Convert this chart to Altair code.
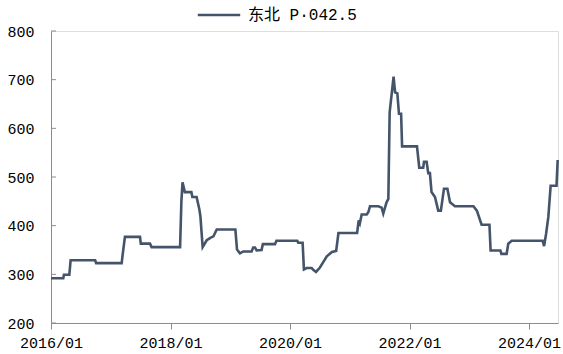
import altair as alt
import pandas as pd

dates = [
    "2016-01-01", "2016-03-16", "2016-03-20", "2016-04-22", "2016-04-30", "2016-09-27", "2016-10-03",
    "2017-03-08", "2017-03-15", "2017-03-28", "2017-06-28", "2017-07-03", "2017-08-28", "2017-09-07",
    "2018-02-28", "2018-03-08", "2018-03-15", "2018-03-29", "2018-05-08", "2018-05-14", "2018-06-09",
    "2018-06-25", "2018-07-02", "2018-07-16", "2018-08-10", "2018-09-01", "2018-09-20", "2018-10-10",
    "2019-02-01", "2019-02-11", "2019-03-01", "2019-03-21", "2019-05-11", "2019-05-21", "2019-06-01",
    "2019-06-11", "2019-07-11", "2019-07-19", "2019-10-01", "2019-10-10",
    "2020-02-14", "2020-02-20", "2020-03-18", "2020-03-26", "2020-04-12", "2020-05-12", "2020-05-20",
    "2020-06-08", "2020-07-02", "2020-07-22", "2020-08-13", "2020-09-13", "2020-10-09", "2020-10-23",
    "2021-02-14", "2021-02-24", "2021-03-03", "2021-03-14", "2021-04-14", "2021-04-24", "2021-05-04",
    "2021-06-24", "2021-07-14", "2021-07-24", "2021-08-13", "2021-08-24", "2021-09-01", "2021-09-25",
    "2021-10-04", "2021-10-18", "2021-10-28", "2021-11-10", "2021-11-16",
    "2022-02-15", "2022-03-01", "2022-03-25", "2022-03-30", "2022-04-15", "2022-04-25", "2022-05-05",
    "2022-05-15", "2022-06-05", "2022-06-25", "2022-07-11", "2022-07-30", "2022-08-20", "2022-09-05",
    "2022-10-05",
    "2023-01-26", "2023-02-16", "2023-03-17", "2023-05-04", "2023-05-11", "2023-07-10", "2023-07-16",
    "2023-08-17", "2023-08-27", "2023-09-17",
    "2024-03-24", "2024-04-02", "2024-04-14", "2024-04-28", "2024-05-12", "2024-06-17", "2024-06-24",
]

values = [
    292, 292, 299, 299, 329, 329, 323,
    323, 343, 377, 377, 363, 363, 356,
    356, 450, 489, 469, 469, 459, 459,
    435, 420, 356, 370, 375, 378, 392,
    392, 351, 343, 347, 347, 355, 355,
    349, 350, 362, 362, 369,
    369, 365, 365, 310, 313, 313, 310,
    305, 314, 325, 337, 346, 348, 385,
    385, 411, 405, 423, 423, 428, 440,
    440, 437, 425, 448, 455, 633, 706,
    674, 672, 630, 630, 563,
    563, 519, 519, 531, 531, 508, 508,
    469, 459, 431, 431, 476, 476, 448,
    440,
    440, 431, 402, 402, 349, 349, 342,
    342, 363, 369,
    369, 358, 383, 418, 482, 482, 535,
]

series_name = "东北 P·042.5"
y_ticks = [200, 300, 400, 500, 600, 700, 800]
x_tick_years = [2016, 2018, 2020, 2022, 2024]

df = pd.DataFrame({"date": dates, "value": values, "series": series_name})
tick_df = pd.DataFrame({"v": y_ticks})

FONT = "Liberation Mono, Noto Sans CJK SC"
LINE = "#44546A"
AXIS = "#8C8C8C"

x_scale = alt.Scale(
    type="utc",
    domain=[alt.DateTime(year=2016, month=1, date=1, utc=True),
            alt.DateTime(year=2024, month=6, date=26, utc=True)],
)
y_scale = alt.Scale(domain=[200, 800], nice=False, zero=False)

line = alt.Chart(df).mark_line(strokeWidth=2.6, interpolate="linear").encode(
    x=alt.X("date:T", scale=x_scale, title=None,
            axis=alt.Axis(values=[alt.DateTime(year=y, month=1, date=1, utc=True) for y in x_tick_years],
                          format="%Y/%m", labelFontSize=15, labelColor="#000000", labelFont=FONT,
                          tickSize=6, tickColor=AXIS, domainColor=AXIS, labelPadding=6,
                          grid=False, labelFlush=False)),
    y=alt.Y("value:Q", scale=y_scale, title=None,
            axis=alt.Axis(values=y_ticks, labelFontSize=15, labelColor="#000000", labelFont=FONT,
                          tickSize=0, domainColor=AXIS, labelPadding=17, grid=False)),
    color=alt.Color("series:N", scale=alt.Scale(range=[LINE]), title=None,
                    legend=alt.Legend(orient="none", legendX=145, legendY=-39, direction="horizontal",
                                      symbolType="stroke", symbolSize=1800, symbolStrokeWidth=2.6,
                                      labelFontSize=16, labelFont=FONT, labelColor="#000000",
                                      labelOffset=6)),
)

ticks = alt.Chart(tick_df).mark_rule(color=AXIS, strokeWidth=1).encode(
    y=alt.Y("v:Q", scale=y_scale),
    x=alt.value(0),
    x2=alt.value(5),
)

chart = alt.layer(ticks, line).properties(
    width=507, height=292,
    autosize=alt.AutoSizeParams(type="none"),
    padding={"left": 51, "top": 31, "right": 5, "bottom": 31},
).configure_view(stroke=None).configure(font=FONT)

chart.save("out.html", embed_options={"renderer": "svg", "actions": False})
